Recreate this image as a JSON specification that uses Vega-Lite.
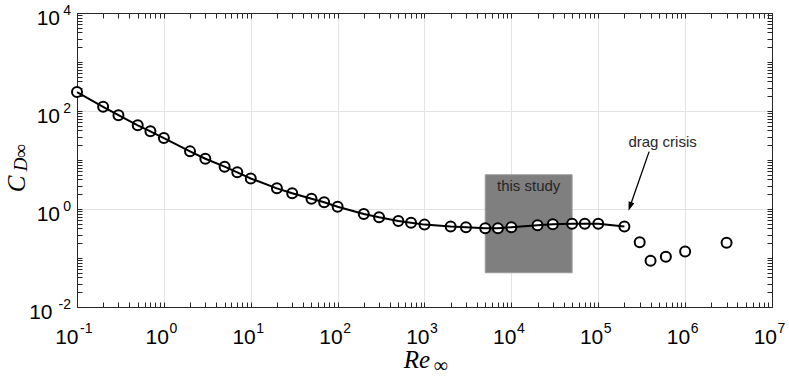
{
  "$schema": "https://vega.github.io/schema/vega-lite/v6.json",
  "width": 695,
  "height": 294,
  "autosize": "none",
  "padding": {"left": 77, "top": 13, "right": 17, "bottom": 69},
  "background": "white",
  "config": {"view": {"stroke": null}},
  "datasets": {
    "cd": [
      {"Re": 0.1, "Cd": 244, "seg": "sub"},
      {"Re": 0.2, "Cd": 122, "seg": "sub"},
      {"Re": 0.3, "Cd": 82, "seg": "sub"},
      {"Re": 0.5, "Cd": 51, "seg": "sub"},
      {"Re": 0.7, "Cd": 38.5, "seg": "sub"},
      {"Re": 1, "Cd": 28, "seg": "sub"},
      {"Re": 2, "Cd": 15, "seg": "sub"},
      {"Re": 3, "Cd": 10.6, "seg": "sub"},
      {"Re": 5, "Cd": 7.3, "seg": "sub"},
      {"Re": 7, "Cd": 5.6, "seg": "sub"},
      {"Re": 10, "Cd": 4.2, "seg": "sub"},
      {"Re": 20, "Cd": 2.64, "seg": "sub"},
      {"Re": 30, "Cd": 2.09, "seg": "sub"},
      {"Re": 50, "Cd": 1.62, "seg": "sub"},
      {"Re": 70, "Cd": 1.37, "seg": "sub"},
      {"Re": 100, "Cd": 1.11, "seg": "sub"},
      {"Re": 200, "Cd": 0.79, "seg": "sub"},
      {"Re": 300, "Cd": 0.676, "seg": "sub"},
      {"Re": 500, "Cd": 0.57, "seg": "sub"},
      {"Re": 700, "Cd": 0.525, "seg": "sub"},
      {"Re": 1000, "Cd": 0.48, "seg": "sub"},
      {"Re": 2000, "Cd": 0.437, "seg": "sub"},
      {"Re": 3000, "Cd": 0.424, "seg": "sub"},
      {"Re": 5000, "Cd": 0.404, "seg": "sub"},
      {"Re": 7000, "Cd": 0.404, "seg": "sub"},
      {"Re": 10000, "Cd": 0.424, "seg": "sub"},
      {"Re": 20000, "Cd": 0.465, "seg": "sub"},
      {"Re": 30000, "Cd": 0.488, "seg": "sub"},
      {"Re": 50000, "Cd": 0.5, "seg": "sub"},
      {"Re": 70000, "Cd": 0.5, "seg": "sub"},
      {"Re": 100000, "Cd": 0.5, "seg": "sub"},
      {"Re": 200000, "Cd": 0.437, "seg": "sub"},
      {"Re": 300000, "Cd": 0.209, "seg": "super"},
      {"Re": 400000, "Cd": 0.088, "seg": "super"},
      {"Re": 600000, "Cd": 0.106, "seg": "super"},
      {"Re": 1000000, "Cd": 0.135, "seg": "super"},
      {"Re": 3000000, "Cd": 0.205, "seg": "super"}
    ],
    "study": [{"x1": 5000, "x2": 50000, "y1": 0.05, "y2": 5}],
    "notes": [
      {"x": 15811, "y": 2.94, "label": "this study"},
      {"x": 550000, "y": 23.6, "label": "drag crisis"}
    ],
    "arrow": [{"x": 385000, "y": 14.8, "x2": 233000, "y2": 1.15}]
  },
  "resolve": {"axis": {"x": "independent", "y": "independent"}},
  "layer": [
    {
      "data": {"name": "study"},
      "mark": {"type": "rect", "color": "#7f7f7f", "stroke": "#9a9a9a", "strokeWidth": 1},
      "encoding": {
        "x": {
          "field": "x1", "type": "quantitative",
          "scale": {"type": "log", "domain": [0.1, 10000000], "nice": false},
          "axis": {
            "orient": "bottom",
            "values": [0.1,0.2,0.3,0.4,0.5,0.6,0.7,0.8,0.9,1,2,3,4,5,6,7,8,9,10,20,30,40,50,60,70,80,90,100,200,300,400,500,600,700,800,900,1000,2000,3000,4000,5000,6000,7000,8000,9000,10000,20000,30000,40000,50000,60000,70000,80000,90000,100000,200000,300000,400000,500000,600000,700000,800000,900000,1000000,2000000,3000000,4000000,5000000,6000000,7000000,8000000,9000000,10000000],
            "labelExpr": "abs(log(datum.value)/LN10 - round(log(datum.value)/LN10)) < 0.01 ? '10' : ''",
            "labelOverlap": false, "labelFlush": false, "labelBound": false,
            "labelFont": "Liberation Sans", "labelFontSize": 21, "labelColor": "#000",
            "labelAlign": "right", "labelBaseline": "alphabetic",
            "labelPadding": 41,
            "labelOffset": {"condition": {"test": "datum.value < 0.9", "value": 1}, "value": 4.5},
            "tickSize": -5, "tickColor": "#262626", "tickWidth": 1,
            "domainColor": "#262626", "domainWidth": 1,
            "grid": true, "gridColor": "#e3e3e3", "gridWidth": 1,
            "gridOpacity": {"condition": {"test": "abs(log(datum.value)/LN10 - round(log(datum.value)/LN10)) < 0.01", "value": 1}, "value": 0},
            "title": "Re", "titleFont": "Liberation Serif", "titleFontStyle": "italic", "titleFontWeight": "normal",
            "titleFontSize": 25, "titleColor": "#000",
            "titleX": 339.5, "titleY": 60, "titleAlign": "center", "titleBaseline": "alphabetic", "titleAnchor": null
          }
        },
        "x2": {"field": "x2"},
        "y": {
          "field": "y1", "type": "quantitative",
          "scale": {"type": "log", "domain": [0.01, 10000], "nice": false},
          "axis": {
            "orient": "left",
            "values": [0.01,0.02,0.03,0.04,0.05,0.06,0.07,0.08,0.09,0.1,0.2,0.3,0.4,0.5,0.6,0.7,0.8,0.9,1,2,3,4,5,6,7,8,9,10,20,30,40,50,60,70,80,90,100,200,300,400,500,600,700,800,900,1000,2000,3000,4000,5000,6000,7000,8000,9000,10000],
            "labelExpr": "abs(log(datum.value)/LN10 - round(log(datum.value)/LN10)) < 0.01 && round(log(datum.value)/LN10) % 2 == 0 ? '10' : ''",
            "labelOverlap": false, "labelFlush": false, "labelBound": false,
            "labelFont": "Liberation Sans", "labelFontSize": 21, "labelColor": "#000",
            "labelAlign": "right", "labelBaseline": "alphabetic",
            "labelOffset": 11.5,
            "labelPadding": {"condition": {"test": "datum.value < 0.9", "value": 30}, "value": 22.5},
            "tickSize": -5, "tickColor": "#262626", "tickWidth": 1,
            "domainColor": "#262626", "domainWidth": 1,
            "grid": true, "gridColor": "#e3e3e3", "gridWidth": 1,
            "gridOpacity": {"condition": {"test": "abs(log(datum.value)/LN10 - round(log(datum.value)/LN10)) < 0.01 && round(log(datum.value)/LN10) % 2 == 0", "value": 1}, "value": 0},
            "title": "C", "titleFont": "Liberation Serif", "titleFontStyle": "italic", "titleFontWeight": "normal",
            "titleFontSize": 25, "titleColor": "#000",
            "titleX": -53, "titleY": 170.5, "titleAlign": "center", "titleBaseline": "alphabetic", "titleAngle": -90, "titleAnchor": null
          }
        },
        "y2": {"field": "y2"}
      }
    },
    {
      "data": {"name": "cd"},
      "mark": {"type": "point", "shape": "circle", "filled": false, "fill": "white", "fillOpacity": 1, "stroke": "black", "strokeWidth": 2, "size": 100, "opacity": 1},
      "encoding": {
        "x": {
          "field": "Re", "type": "quantitative",
          "scale": {"type": "log", "domain": [0.1, 10000000], "nice": false},
          "axis": {
            "orient": "top",
            "values": [0.1,0.2,0.3,0.4,0.5,0.6,0.7,0.8,0.9,1,2,3,4,5,6,7,8,9,10,20,30,40,50,60,70,80,90,100,200,300,400,500,600,700,800,900,1000,2000,3000,4000,5000,6000,7000,8000,9000,10000,20000,30000,40000,50000,60000,70000,80000,90000,100000,200000,300000,400000,500000,600000,700000,800000,900000,1000000,2000000,3000000,4000000,5000000,6000000,7000000,8000000,9000000,10000000],
            "labels": false, "grid": false, "title": null,
            "tickSize": -5, "tickColor": "#262626", "domainColor": "#262626"
          }
        },
        "y": {
          "field": "Cd", "type": "quantitative",
          "scale": {"type": "log", "domain": [0.01, 10000], "nice": false},
          "axis": {
            "orient": "right",
            "values": [0.01,0.02,0.03,0.04,0.05,0.06,0.07,0.08,0.09,0.1,0.2,0.3,0.4,0.5,0.6,0.7,0.8,0.9,1,2,3,4,5,6,7,8,9,10,20,30,40,50,60,70,80,90,100,200,300,400,500,600,700,800,900,1000,2000,3000,4000,5000,6000,7000,8000,9000,10000],
            "labels": false, "grid": false, "title": null,
            "tickSize": -5, "tickColor": "#262626", "domainColor": "#262626"
          }
        }
      }
    },
    {
      "data": {"name": "cd"},
      "transform": [{"filter": "datum.seg === 'sub'"}],
      "mark": {"type": "line", "color": "black", "strokeWidth": 2},
      "encoding": {
        "x": {"field": "Re", "type": "quantitative", "scale": {"type": "log", "domain": [0.1, 10000000], "nice": false}, "axis": null},
        "y": {"field": "Cd", "type": "quantitative", "scale": {"type": "log", "domain": [0.01, 10000], "nice": false}, "axis": null}
      }
    },
    {
      "data": {"name": "notes"},
      "mark": {"type": "text", "font": "Liberation Sans", "fontSize": 15, "color": "#262626", "align": "center", "baseline": "middle"},
      "encoding": {
        "x": {
          "field": "x", "type": "quantitative", "scale": {"type": "log", "domain": [0.1, 10000000], "nice": false},
          "axis": {
            "orient": "bottom",
            "values": [0.1, 1, 10, 100, 1000, 10000, 100000, 1000000, 10000000],
            "labelExpr": "'' + round(log(datum.value)/LN10)",
            "labelOverlap": false, "labelFlush": false, "labelBound": false,
            "labelFont": "Liberation Sans", "labelFontSize": 14, "labelColor": "#000",
            "labelAlign": "left", "labelBaseline": "alphabetic",
            "labelPadding": 25,
            "labelOffset": {"condition": {"test": "datum.value < 0.9", "value": 2.5}, "value": 5},
            "ticks": true, "tickSize": 0, "tickOpacity": 0, "domain": false, "grid": false,
            "title": "∞", "titleFont": "Liberation Serif", "titleFontWeight": "normal",
            "titleFontSize": 20, "titleColor": "#000",
            "titleX": 363, "titleY": 64, "titleAlign": "center", "titleBaseline": "alphabetic", "titleAnchor": null
          }
        },
        "y": {
          "field": "y", "type": "quantitative", "scale": {"type": "log", "domain": [0.01, 10000], "nice": false},
          "axis": {
            "orient": "left",
            "values": [0.01, 1, 100, 10000],
            "labelExpr": "'' + round(log(datum.value)/LN10)",
            "labelOverlap": false, "labelFlush": false, "labelBound": false,
            "labelFont": "Liberation Sans", "labelFontSize": 14, "labelColor": "#000",
            "labelAlign": "right", "labelBaseline": "alphabetic",
            "labelPadding": 6.5, "labelOffset": 1.5,
            "ticks": true, "tickSize": 0, "tickOpacity": 0, "domain": false, "grid": false,
            "title": "D∞", "titleFont": "Liberation Serif", "titleFontStyle": "italic", "titleFontWeight": "normal",
            "titleFontSize": 19, "titleColor": "#000",
            "titleX": -51, "titleY": 144, "titleAlign": "center", "titleBaseline": "alphabetic", "titleAngle": -90, "titleAnchor": null
          }
        },
        "text": {"field": "label"}
      }
    },
    {
      "data": {"name": "arrow"},
      "mark": {"type": "rule", "color": "black", "strokeWidth": 1.3},
      "encoding": {
        "x": {"field": "x", "type": "quantitative", "scale": {"type": "log", "domain": [0.1, 10000000], "nice": false}, "axis": null},
        "y": {"field": "y", "type": "quantitative", "scale": {"type": "log", "domain": [0.01, 10000], "nice": false}, "axis": null},
        "x2": {"field": "x2"},
        "y2": {"field": "y2"}
      }
    },
    {
      "data": {"name": "arrow"},
      "mark": {"type": "point", "shape": "M0,1L-0.6,-0.8L0.6,-0.8Z", "filled": true, "color": "black", "opacity": 1, "size": 100, "angle": 19},
      "encoding": {
        "x": {"field": "x2", "type": "quantitative", "scale": {"type": "log", "domain": [0.1, 10000000], "nice": false}, "axis": null},
        "y": {"field": "y2", "type": "quantitative", "scale": {"type": "log", "domain": [0.01, 10000], "nice": false}, "axis": null}
      }
    }
  ]
}
